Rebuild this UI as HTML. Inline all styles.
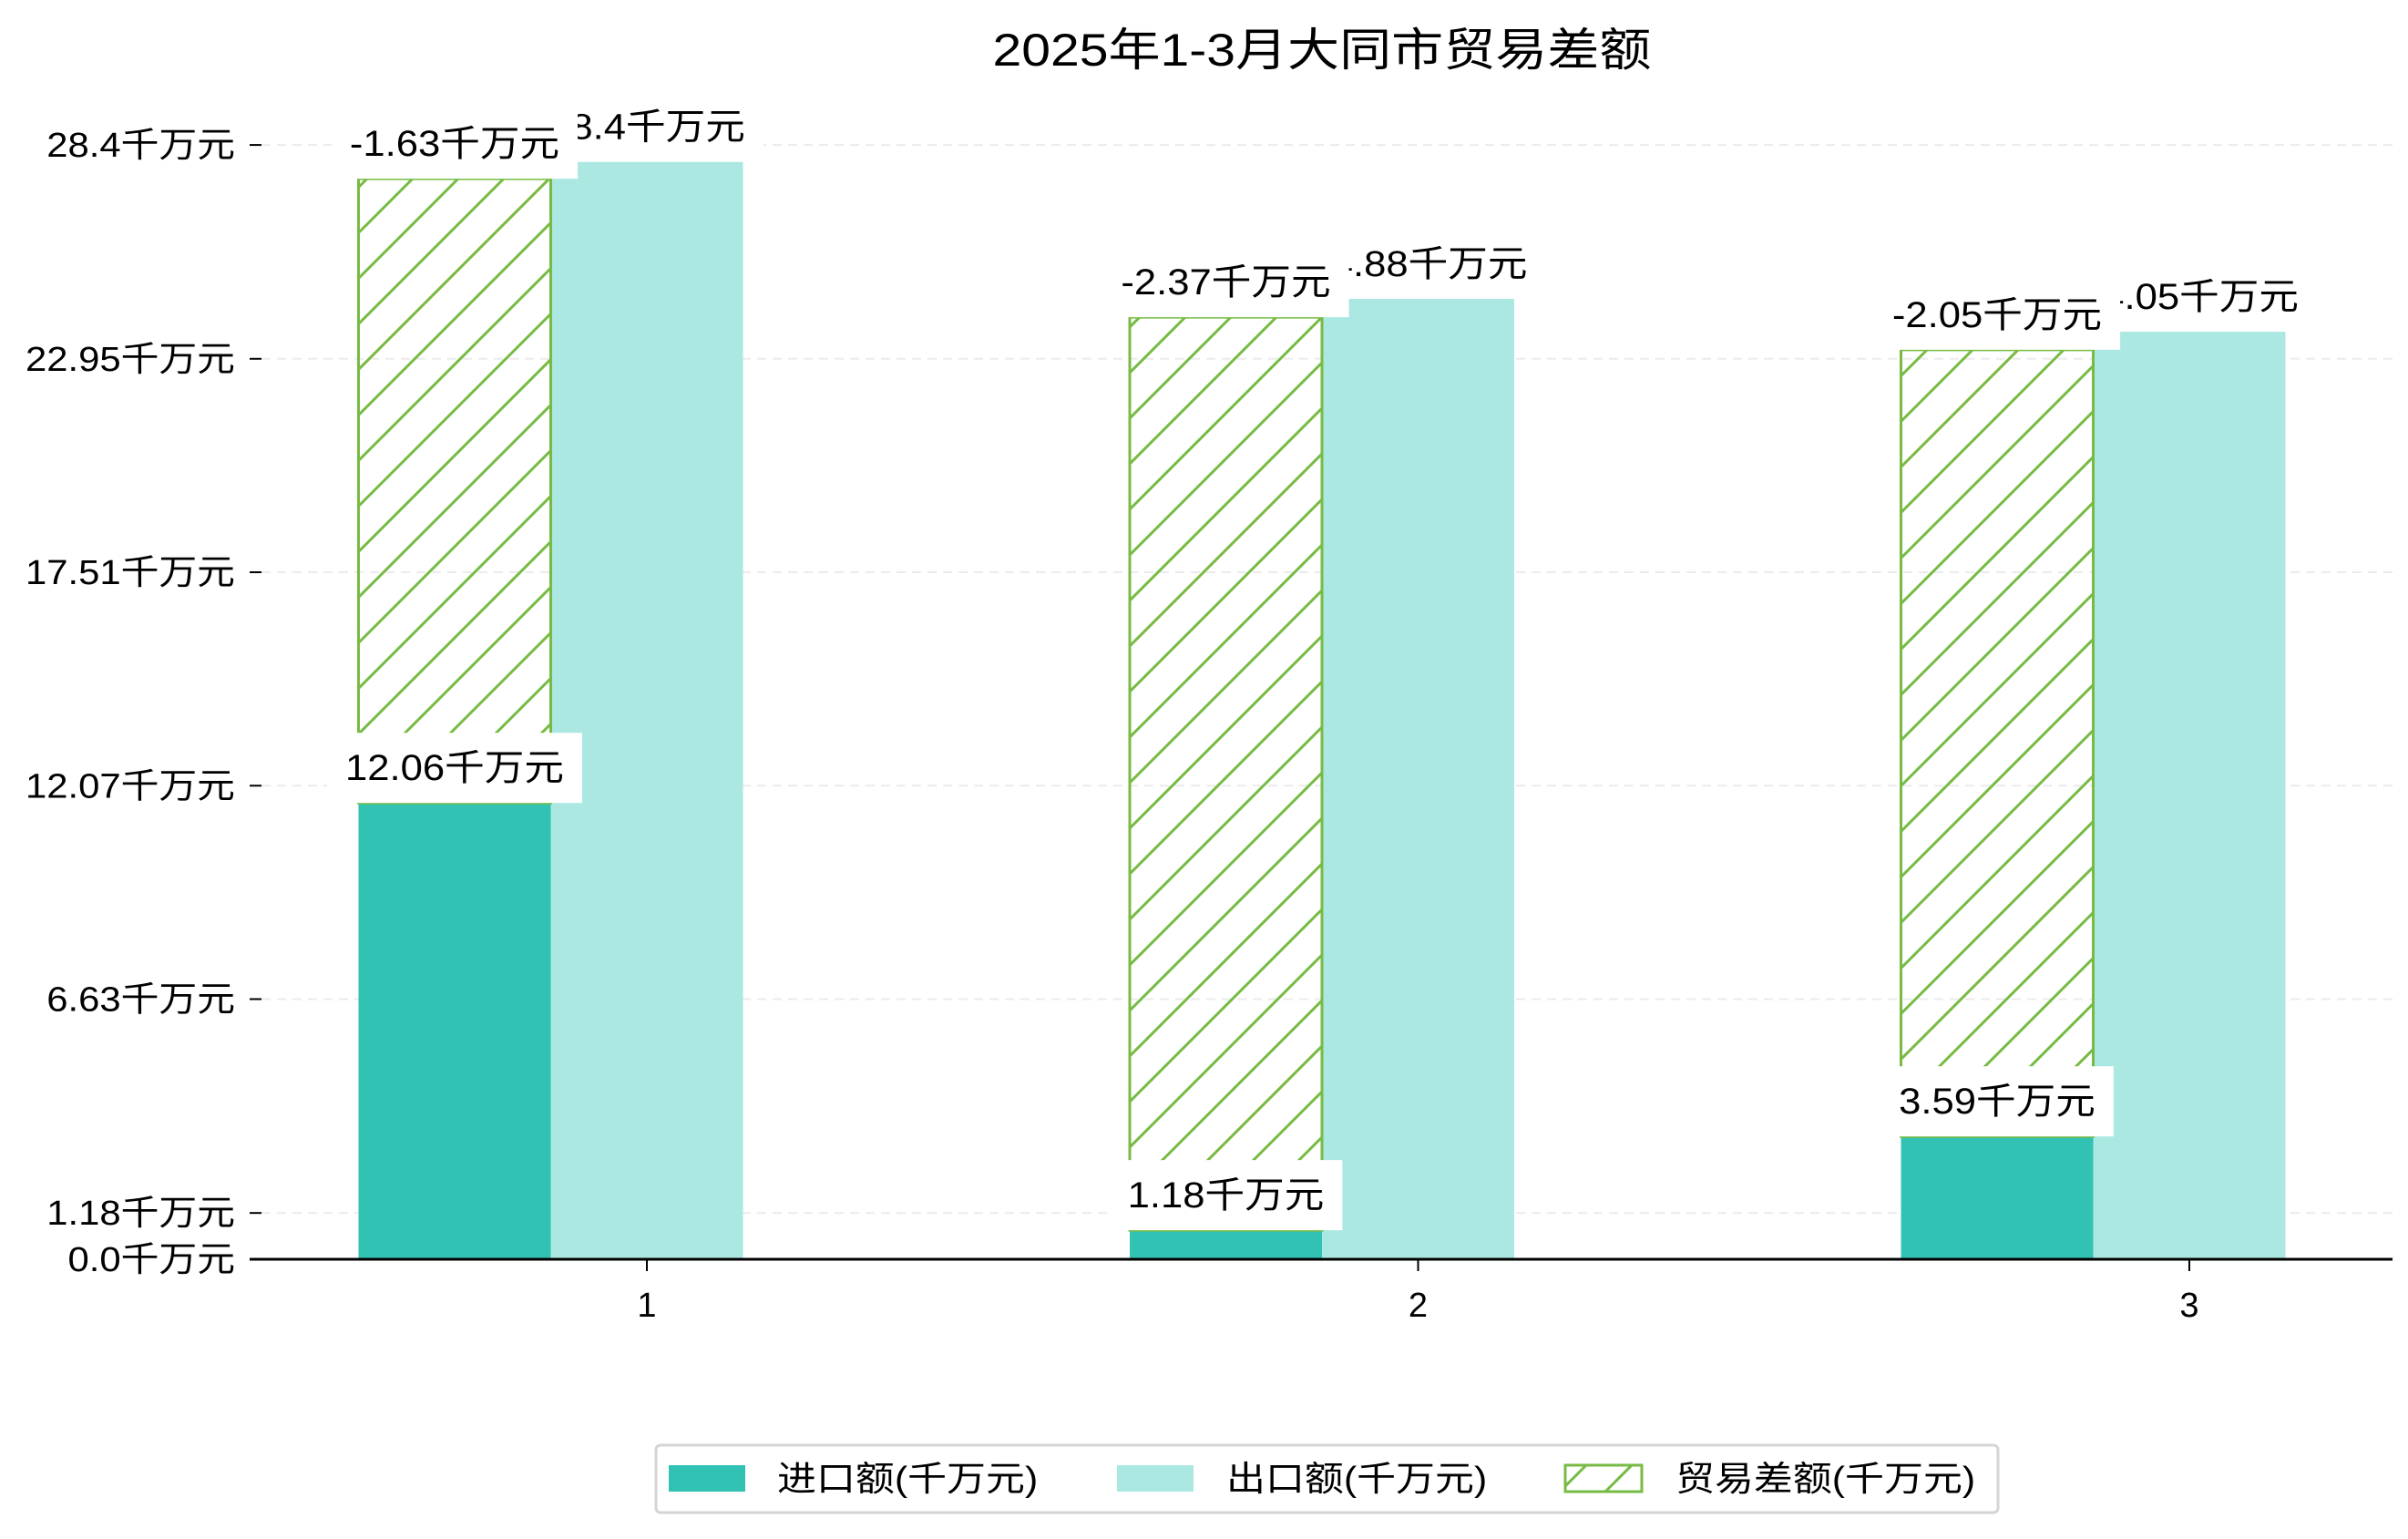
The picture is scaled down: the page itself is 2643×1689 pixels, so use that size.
<!DOCTYPE html>
<html><head><meta charset="utf-8">
<style>
html,body{margin:0;padding:0;background:#fff;}
svg{display:block;font-family:"Liberation Sans","Noto Sans CJK SC",sans-serif;}
</style></head>
<body>
<svg id="chart" width="2643" height="1689" viewBox="0 0 2643 1689" xmlns="http://www.w3.org/2000/svg">
<defs>
<pattern id="hatch" patternUnits="userSpaceOnUse" x="-1" y="0" width="50" height="50">
<line x1="-10" y1="60" x2="60" y2="-10" stroke="#77bb44" stroke-width="3"/>
<line x1="-10" y1="10" x2="10" y2="-10" stroke="#77bb44" stroke-width="3"/>
<line x1="40" y1="60" x2="60" y2="40" stroke="#77bb44" stroke-width="3"/>
</pattern>
</defs>
<text x="1451" y="72" text-anchor="middle" font-size="50" textLength="723" lengthAdjust="spacingAndGlyphs" fill="#000">2025年1-3月大同市贸易差额</text>
<g id="grid"></g>
<g id="bars"></g>
<g id="labels"></g>
<g id="axes"></g>
<g>
<rect x="720" y="1586" width="1473" height="74" rx="5" fill="#fff" stroke="#d4d4d4" stroke-width="3"/>
<rect x="734" y="1608" width="84" height="29" fill="#31c2b4"/>
<text class="wide" x="853" y="1636" font-size="38">进口额(千万元)</text>
<rect x="1226" y="1608" width="84" height="29" fill="#abe8e2"/>
<text class="wide" x="1346" y="1636" font-size="38">出口额(千万元)</text>
<rect x="1718" y="1608" width="84" height="29" fill="url(#hatch)" stroke="#77bb44" stroke-width="3"/>
<text class="wide" x="1839" y="1636" font-size="38">贸易差额(千万元)</text>
</g>
</svg>
<script>
const categories = ["1", "2", "3"];
const importValues = [11.63, 0.74, 3.13];
const exportValues = [27.97, 24.48, 23.64];
const balanceTops = [27.54, 24.01, 23.18];
const importLabels = ["12.06千万元", "1.18千万元", "3.59千万元"];
const exportLabels = ["28.4千万元", "24.88千万元", "24.05千万元"];
const balanceLabels = ["-1.63千万元", "-2.37千万元", "-2.05千万元"];
const yTicks = [0.0, 1.18, 6.63, 12.07, 17.51, 22.95, 28.4];
const yTickLabels = ["0.0千万元", "1.18千万元", "6.63千万元", "12.07千万元", "17.51千万元", "22.95千万元", "28.4千万元"];

const NS = "http://www.w3.org/2000/svg";
const Y0 = 1382, PPU = 43.06;
function y(v){ return Y0 - v * PPU; }
function xc(i){ return 710 + i * 846.5; }
const BW = 211;
function mk(tag, attrs, parent){ const e = document.createElementNS(NS, tag); for (const k in attrs) e.setAttribute(k, attrs[k]); parent.appendChild(e); return e; }
function widen(t, f){ let w = 0; try { w = t.getComputedTextLength(); } catch (e) {} if (w > 0) { t.setAttribute('textLength', w * f); t.setAttribute('lengthAdjust', 'spacingAndGlyphs'); return w * f; } return 230; }
const grid = document.getElementById('grid'), bars = document.getElementById('bars'), labels = document.getElementById('labels'), axes = document.getElementById('axes');

yTicks.forEach((t, i) => {
  if (t > 0) {
    const g = mk('line', {x1: 287, x2: 2626, y1: y(t), y2: y(t), stroke: '#ebebeb', 'stroke-width': 2, 'stroke-dasharray': '10 7'}, grid);
    
    
  }
  const tk = mk('line', {x1: 274, x2: 287, y1: y(t), y2: y(t), stroke: '#000', 'stroke-width': 2}, axes);
  
  
  const tl = mk('text', {x: 258, y: y(t) + 13, 'text-anchor': 'end', 'font-size': 38}, axes);
  tl.textContent = yTickLabels[i];
  
  
  widen(tl, 1.1);
});
const ax = mk('line', {x1: 274, x2: 2626, y1: Y0, y2: Y0, stroke: '#000', 'stroke-width': 3}, axes);



categories.forEach((c, i) => {
  const cx = xc(i);
  const ib = mk('rect', {x: cx - 1.5 * BW, y: y(importValues[i]), width: BW, height: Y0 - y(importValues[i]), fill: '#31c2b4'}, bars);
  
  
  const eb = mk('rect', {x: cx - 0.5 * BW, y: y(exportValues[i]), width: BW, height: Y0 - y(exportValues[i]), fill: '#abe8e2'}, bars);
  
  
  const hb = mk('rect', {x: cx - 1.5 * BW, y: y(balanceTops[i]), width: BW, height: y(importValues[i]) - y(balanceTops[i]), fill: 'url(#hatch)', stroke: '#77bb44', 'stroke-width': 3}, bars);
  
  
  const tk = mk('line', {x1: cx, x2: cx, y1: Y0, y2: Y0 + 13, stroke: '#000', 'stroke-width': 2}, axes);
  
  
  const tl = mk('text', {x: cx, y: Y0 + 63, 'text-anchor': 'middle', 'font-size': 38}, axes);
  tl.textContent = c;
  
  
});

function boxLabel(text, cx, bottom, name){
  const g = mk('g', {}, labels);
  
  
  const r = mk('rect', {fill: '#fff'}, g);
  const t = mk('text', {x: cx, y: bottom - 25, 'text-anchor': 'middle', 'font-size': 40}, g);
  t.textContent = text;
  const w = widen(t, 1.09);
  r.setAttribute('x', cx - w / 2 - 20);
  r.setAttribute('width', w + 40);
  r.setAttribute('y', bottom - 77);
  r.setAttribute('height', 77);
}
categories.forEach((c, i) => boxLabel(importLabels[i], xc(i) - BW, y(importValues[i]), 'import-value-label'));
categories.forEach((c, i) => boxLabel(exportLabels[i], xc(i), y(exportValues[i]), 'export-value-label'));
categories.forEach((c, i) => boxLabel(balanceLabels[i], xc(i) - BW, y(balanceTops[i]), 'balance-value-label'));
document.querySelectorAll('text.wide').forEach(t => widen(t, 1.13));
</script>
</body></html>
